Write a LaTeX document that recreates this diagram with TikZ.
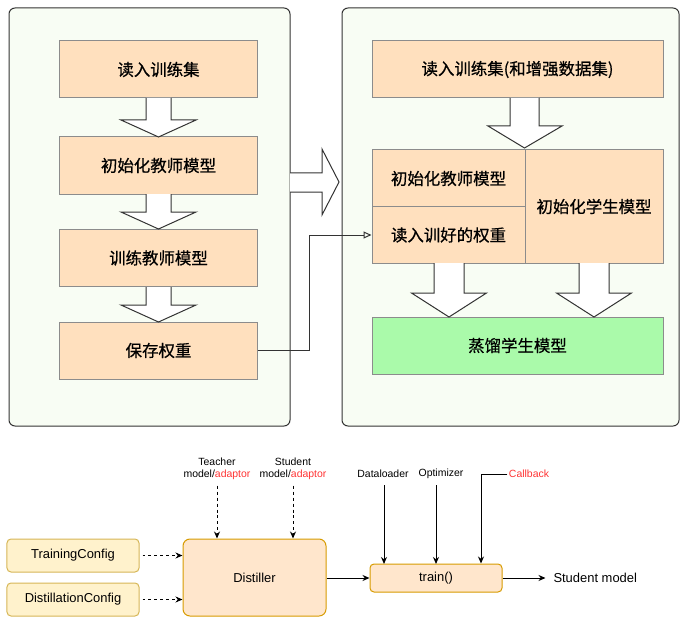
\documentclass[tikz,border=0pt]{standalone}
\usepackage{fontspec}
\setmainfont{Liberation Sans}
\newfontfamily\cjk[FakeBold=0.6]{Noto Sans CJK SC}
\usepackage{tikz}
\usetikzlibrary{arrows.meta, positioning}
\usepackage{xcolor}

\definecolor{panelbg}{RGB}{248,253,244}
\definecolor{stepfill}{RGB}{255,224,190}
\definecolor{distfill}{RGB}{170,250,170}
\definecolor{cfgfill}{RGB}{255,242,204}
\definecolor{cfgline}{RGB}{214,182,86}
\definecolor{runfill}{RGB}{255,230,204}
\definecolor{runline}{RGB}{215,155,0}
\definecolor{hint}{RGB}{255,51,51}

\tikzset{
  panel/.style={draw=black!80, fill=panelbg, rounded corners=6pt},
  stepbox/.style={draw=black!45, fill=stepfill, font=\cjk\fontsize{16.5}{19}\selectfont, inner sep=0pt},
  blk/.style={draw=black!80, fill=white, line join=miter},
  cfgbox/.style={draw=cfgline, fill=cfgfill, rounded corners=4pt, font=\fontsize{13}{15}\selectfont, inner sep=0pt},
  runbox/.style={draw=runline, fill=runfill, rounded corners=7pt, font=\fontsize{13}{15}\selectfont, inner sep=0pt},
  lbl/.style={font=\fontsize{10.5}{12.5}\selectfont, align=center, inner sep=1pt}
}

\begin{document}
\begin{tikzpicture}[x=1bp, y=-1bp, line width=1bp, >={Stealth[length=7bp, width=6bp]}]
  \useasboundingbox (0,0) rectangle (685,624);

  % two stages
  \draw[panel] (9,8) rectangle (290,426);
  \draw[panel] (342,8) rectangle (679,426);

  % teacher stage
  \node[stepbox, minimum width=197bp, minimum height=57bp] (read) at (158.5,69.5) {读入训练集};
  \node[stepbox, minimum width=197bp, minimum height=57bp] (tinit) at (158.5,165.5) {初始化教师模型};
  \node[stepbox, minimum width=197bp, minimum height=57bp] (ttrain) at (158.5,258) {训练教师模型};
  \node[stepbox, minimum width=197bp, minimum height=57bp] (save) at (158.5,350.5) {保存权重};

  \foreach \yt/\yh/\yb in {98/120/137, 194/212/229, 287/305/322}
    \draw[blk] (146,\yt) -- (146,\yh) -- (121,\yh) -- (158.5,\yb) -- (196,\yh) -- (171,\yh) -- (171,\yt);

  % stage to stage
  \draw[blk] (290,173) -- (322,173) -- (322,149) -- (339,182) -- (322,215) -- (322,192) -- (290,192);

  % student stage
  \node[stepbox, minimum width=291bp, minimum height=57bp] (readaug) at (517.5,69.5) {读入训练集(和增强数据集)};
  \node[stepbox, minimum width=153bp, minimum height=57bp] (tinit2) at (448.5,178.5) {初始化教师模型};
  \node[stepbox, minimum width=153bp, minimum height=56bp] (loadw) at (448.5,235) {读入训好的权重};
  \node[stepbox, minimum width=138bp, minimum height=113bp] (sinit) at (594,206.5) {初始化学生模型};
  \node[stepbox, fill=distfill, minimum width=291bp, minimum height=57bp] (distill) at (517.5,345.5) {蒸馏学生模型};

  \draw[blk] (510,98) -- (510,126) -- (488,126) -- (524.5,148) -- (562,126) -- (539,126) -- (539,98);
  \foreach \xc in {449, 594}
    \draw[blk] (\xc-15,263) -- (\xc-15,293) -- (\xc-37.5,293) -- (\xc,317) -- (\xc+37.5,293) -- (\xc+15,293) -- (\xc+15,263);

  \draw[black!80, -{Triangle[open, length=8bp, width=7bp]}] (save.east) -- ++(52,0) |- (loadw.west);

  % distiller usage
  \node[cfgbox, minimum width=132bp, minimum height=33bp] (tcfg) at (73,555.5) {TrainingConfig};
  \node[cfgbox, minimum width=132bp, minimum height=33bp] (dcfg) at (73,599.5) {DistillationConfig};
  \node[runbox, minimum width=143bp, minimum height=77bp] (dist) at (254.5,577.5) {Distiller};
  \node[runbox, rounded corners=4pt, minimum width=132bp, minimum height=28bp] (train) at (436,578) {train()};
  \node[font=\fontsize{13}{15}\selectfont, anchor=west, inner sep=0pt] (smodel) at (553,578) {Student model};

  \node[lbl] (teach) at (217,469) {Teacher\\model/\textcolor{hint}{adaptor}};
  \node[lbl] (stud) at (293,469) {Student\\model/\textcolor{hint}{adaptor}};
  \node[lbl] (loader) at (383,474) {Dataloader};
  \node[lbl] (optim) at (441,474) {Optimizer};
  \node[lbl, text=hint] (cb) at (529,474) {Callback};

  \draw[dashed, ->] (tcfg.east) ++(3,0) -- (dist.west |- tcfg.east);
  \draw[dashed, ->] (dcfg.east) ++(3,0) -- (dist.west |- dcfg.east);
  \draw[dashed, ->] (teach.south) ++(0,4) -- (teach.south |- dist.north);
  \draw[dashed, ->] (stud.south) ++(0,4) -- (stud.south |- dist.north);

  \draw[->] (dist.east |- train.west) -- (train.west);
  \draw[->] (train.east) -- ++(43,0);
  \draw[->] (384,485) -- (384,564);
  \draw[->] (optim.south -| 436,0) ++(0,5) -- (436 ,564);
  \coordinate (cbturn) at (481,474);
  \draw[->] (cb.west) -- (cbturn) -- (cbturn |- train.north);
\end{tikzpicture}
\end{document}
